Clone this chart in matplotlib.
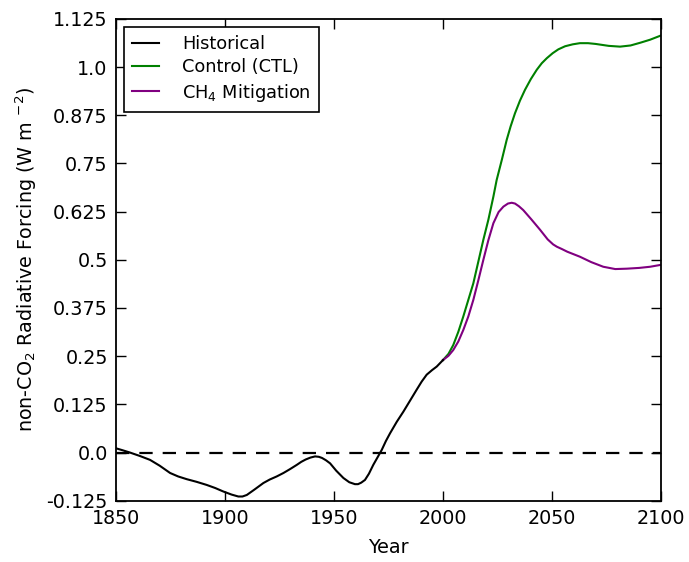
import matplotlib
matplotlib.use("Agg")
import matplotlib.pyplot as plt

# ---- data ----
hist_years = [1850, 1853, 1856.4, 1861, 1865.6, 1870, 1874.8, 1878.5, 1882.4, 1887,
              1891.6, 1895.5, 1899.2, 1903, 1906.1, 1908, 1910, 1913.5, 1917.6, 1920.5,
              1923.7, 1926.8, 1929.8, 1932.9, 1935, 1937, 1939.2, 1941.3, 1943, 1944.5,
              1946.3, 1948.2, 1951, 1954.3, 1957, 1959.6, 1961, 1962.5, 1964.2, 1966,
              1968, 1970, 1971.9, 1973.8, 1975.7, 1978.8, 1981.8, 1984.8, 1987.9, 1990.2,
              1992.5, 1995, 1997.1, 2000]
hist_vals = [0.011, 0.006, 0.0, -0.009, -0.019, -0.034, -0.053, -0.062, -0.069, -0.076,
             -0.084, -0.092, -0.101, -0.109, -0.114, -0.114, -0.110, -0.096, -0.079, -0.070,
             -0.062, -0.053, -0.043, -0.032, -0.024, -0.018, -0.013, -0.010, -0.011, -0.014,
             -0.020, -0.028, -0.047, -0.066, -0.077, -0.082, -0.082, -0.078, -0.071, -0.055,
             -0.032, -0.012, 0.007, 0.030, 0.050, 0.080, 0.106, 0.134, 0.163, 0.184,
             0.202, 0.214, 0.223, 0.240]

ctl_years = [2000, 2002.5, 2004.7, 2007, 2009.3, 2013.9, 2018.5, 2020.8, 2023.1, 2024.6,
             2027, 2029.2, 2031, 2033, 2035.3, 2037.6, 2040.3, 2043, 2045.3, 2047.6,
             2050.3, 2052.9, 2056, 2059.5, 2062.8, 2066.5, 2070, 2076, 2081.2, 2086,
             2090.4, 2095, 2100]
ctl_vals = [0.240, 0.256, 0.279, 0.313, 0.353, 0.439, 0.552, 0.604, 0.664, 0.707,
            0.760, 0.811, 0.846, 0.880, 0.913, 0.941, 0.969, 0.993, 1.010, 1.023,
            1.036, 1.046, 1.054, 1.059, 1.062, 1.062, 1.060, 1.055, 1.053, 1.056,
            1.063, 1.071, 1.082]

mit_years = [2000, 2002.5, 2004.7, 2007, 2009.3, 2011.6, 2013.9, 2016.2, 2018.5, 2020.8,
             2023.1, 2025.5, 2027.7, 2029.8, 2031.5, 2033, 2034.8, 2036.8, 2040.5, 2044.5,
             2048, 2050.5, 2052.2, 2054.5, 2057, 2062.8, 2068, 2073.5, 2079, 2084.3,
             2090, 2095, 2100]
mit_vals = [0.240, 0.251, 0.266, 0.288, 0.318, 0.353, 0.396, 0.447, 0.500, 0.551,
            0.595, 0.624, 0.638, 0.646, 0.648, 0.646, 0.639, 0.629, 0.605, 0.578,
            0.553, 0.540, 0.534, 0.528, 0.521, 0.508, 0.494, 0.482, 0.476, 0.477,
            0.479, 0.482, 0.487]

y_ticks = [-0.125, 0.0, 0.125, 0.25, 0.375, 0.5, 0.625, 0.75, 0.875, 1.0, 1.125]
y_tick_labels = ["-0.125", "0.0", "0.125", "0.25", "0.375", "0.5", "0.625",
                 "0.75", "0.875", "1.0", "1.125"]
x_ticks = [1850, 1900, 1950, 2000, 2050, 2100]

plt.rcParams['font.family'] = ['DejaVu Sans']
plt.rcParams['mathtext.default'] = 'regular'

fig = plt.figure(figsize=(6.89, 5.62), dpi=100)
ax = fig.add_axes([0.1684, 0.109, 0.7910, 0.8574])

lw = 1.5
ax.axhline(0.0, color='black', linestyle='--', linewidth=1.6, dashes=(6, 4.5))
ax.plot(ctl_years, ctl_vals, color='green', linewidth=lw, label='Control (CTL)')
ax.plot(mit_years, mit_vals, color='purple', linewidth=lw, label='CH$_4$ Mitigation')
ax.plot(hist_years, hist_vals, color='black', linewidth=lw, label='Historical')

ax.set_xlim(1850, 2100)
ax.set_ylim(-0.125, 1.125)
ax.set_xticks(x_ticks)
ax.set_xticklabels([str(x) for x in x_ticks])
ax.set_yticks(y_ticks)
ax.set_yticklabels(y_tick_labels)
ax.tick_params(direction='in', length=7, width=1, top=True, right=True,
               labelsize=13.8, pad=6)
for s in ax.spines.values():
    s.set_linewidth(1.3)

ax.set_xlabel('Year', fontsize=13.8, labelpad=7)
ax.set_ylabel('non-CO$_2$ Radiative Forcing (W m $^{-2}$)', fontsize=13.8, labelpad=5.5)

handles, labels = ax.get_legend_handles_labels()
order = [2, 0, 1]
leg = ax.legend([handles[i] for i in order], [labels[i] for i in order],
                loc='upper left', fontsize=12.8, fancybox=False, framealpha=1,
                edgecolor='black', borderaxespad=0.45, handlelength=1.5,
                handletextpad=1.3, borderpad=0.45, labelspacing=0.3)
leg.get_frame().set_linewidth(1.2)

fig.savefig('out.png', dpi=100)
